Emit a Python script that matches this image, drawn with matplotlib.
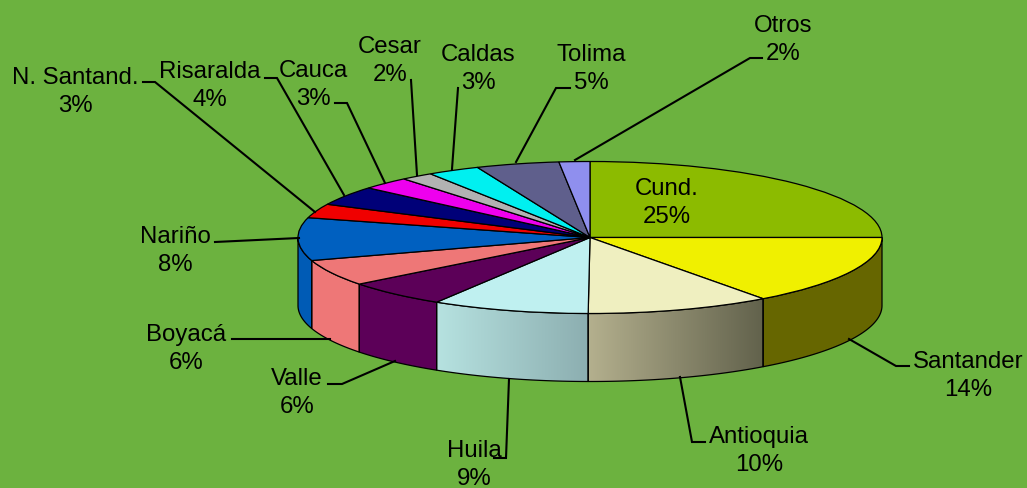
import numpy as np
import matplotlib
matplotlib.use('Agg')
import matplotlib.pyplot as plt
from matplotlib.patches import Polygon
from matplotlib.colors import to_rgb
from matplotlib.transforms import Affine2D

W, H = 1027, 489
bg = '#6cb23f'

names = ['Cund.', 'Santander', 'Antioquia', 'Huila', 'Valle', 'Boyacá', 'Nariño',
         'N. Santand.', 'Risaralda', 'Cauca', 'Cesar', 'Caldas', 'Tolima', 'Otros']
pct_labels = ['25%', '14%', '10%', '9%', '6%', '6%', '8%', '3%', '4%', '3%', '2%', '3%', '5%', '2%']
# share of the circle as drawn (the original's 3d projection stretches some slices)
shares = [25.0, 14.9, 10.2, 8.7, 5.7, 5.6, 9.1, 3.0, 4.1, 2.7, 1.8, 2.9, 4.6, 1.7]

top_colors = ['#8cbb00', '#f0f000', '#efefc0', '#bff0f0', '#5c0058', '#ee7777', '#0060c0',
              '#f00000', '#000078', '#ee00ee', '#b2b2b2', '#00f0f0', '#5f5f8c', '#8f8fee']
side_colors = {'Santander': '#666600', 'Valle': '#5c0058', 'Boyacá': '#ee7777', 'Nariño': '#005bb5'}
side_grads = {'Antioquia': ('#b4b08e', '#62624c'), 'Huila': ('#b6e2e0', '#8caeb0')}

label_pos = [(667, 203), (968, 376), (759, 451), (474, 465), (297, 393), (186, 349), (175, 251),
             (75, 92), (210, 86), (313, 85), (390, 61), (478, 69), (591, 69), (783, 40)]
leaders = [None,
           [(849, 340), (896, 367), (909, 367)],
           [(680, 378), (692, 443), (705, 443)],
           [(509, 380), (506, 459), (494, 459)],
           [(395, 362), (342, 385), (328, 385)],
           [(330, 340), (232, 340)],
           [(299, 239), (215, 243)],
           [(315, 213), (155, 83), (143, 83)],
           [(344, 196), (277, 79), (265, 79)],
           [(385, 184), (347, 104), (335, 104)],
           [(417, 176), (411, 81)],
           [(452, 170), (458, 89)],
           [(516, 163), (556, 89), (570, 89)],
           [(575, 161), (750, 59), (762, 59)]]

cx, cy, rx, ry, depth = 590, 238.5, 292, 76, 68

plt.rcParams['font.family'] = ['Liberation Sans', 'DejaVu Sans']
fig = plt.figure(figsize=(W / 100, H / 100), dpi=100, facecolor=bg)
ax = fig.add_axes([0, 0, 1, 1])
ax.set_facecolor(bg)

# pixel coordinates with origin top left, for leaders and labels
px = Affine2D().scale(1, -1).translate(0, H)

ax.pie(shares, colors=top_colors, startangle=90, counterclock=False, radius=1,
       wedgeprops={'edgecolor': 'black', 'linewidth': 0.9, 'zorder': 5})

# side wall, only the front half shows
d = depth / ry
edges = np.concatenate([[0], np.cumsum(shares)]) * 3.6
for i, name in enumerate(names):
    a = max(edges[i], 90)
    b = min(edges[i + 1], 270)
    if a >= b:
        continue
    th = np.radians(np.linspace(a, b, 60))
    x = np.sin(th)
    y = np.cos(th)
    verts = np.column_stack([np.r_[x, x[::-1]], np.r_[y, y[::-1] - d]])
    if name in side_grads:
        c0, c1 = side_grads[name]
        grad = np.linspace(to_rgb(c0), to_rgb(c1), 256)[None, :, :]
        im = ax.imshow(grad, extent=(x.min(), x.max(), verts[:, 1].min(), verts[:, 1].max()),
                       aspect='auto', zorder=2, interpolation='bilinear')
        clip = Polygon(verts, closed=True, transform=ax.transData, fc='none', ec='none')
        ax.add_patch(clip)
        im.set_clip_path(clip)
    else:
        ax.add_patch(Polygon(verts, closed=True, fc=side_colors[name], ec='none', zorder=2))
    ax.add_patch(Polygon(verts, closed=True, fc='none', ec='black', lw=0.9, zorder=3))

ax.set_aspect('auto')
ax.set_xlim((0 - cx) / rx, (W - cx) / rx)
ax.set_ylim((cy - H) / ry, cy / ry)
ax.axis('off')

for i, name in enumerate(names):
    if leaders[i] is not None:
        xs = [p[0] for p in leaders[i]]
        ys = [p[1] for p in leaders[i]]
        ax.plot(xs, ys, color='black', lw=1.5, transform=px, zorder=6, clip_on=False,
                solid_joinstyle='miter')
    ax.text(label_pos[i][0], label_pos[i][1], name + '\n' + pct_labels[i], transform=px,
            ha='center', va='center', ma='center', fontsize=17.3, color='black',
            linespacing=1.3, zorder=7, clip_on=False)

fig.savefig('out.png', dpi=100, facecolor=bg)
